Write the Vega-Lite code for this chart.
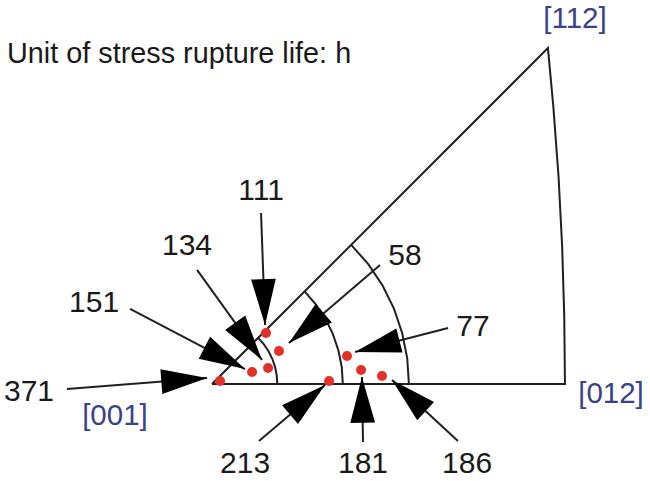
{
  "$schema": "https://vega.github.io/schema/vega-lite/v6.json",
  "width": 650,
  "height": 481,
  "padding": 0,
  "autosize": {"type": "fit", "contains": "padding"},
  "background": "white",
  "config": {"view": {"stroke": null}},
  "datasets": {
    "curves": [
      {"curve": "outline", "i": 0, "x": 0, "y": 0},
      {"curve": "outline", "i": 1, "x": 0.2361, "y": 0},
      {"curve": "outline", "i": 2, "x": 0.2356, "y": 0.0461},
      {"curve": "outline", "i": 3, "x": 0.2342, "y": 0.0923},
      {"curve": "outline", "i": 4, "x": 0.2318, "y": 0.1389},
      {"curve": "outline", "i": 5, "x": 0.2283, "y": 0.1858},
      {"curve": "outline", "i": 6, "x": 0.2247, "y": 0.2247},
      {"curve": "outline", "i": 7, "x": 0, "y": 0},
      {"curve": "arc5", "i": 0, "x": 0.0437, "y": 0},
      {"curve": "arc5", "i": 1, "x": 0.0433, "y": 0.0057},
      {"curve": "arc5", "i": 2, "x": 0.0422, "y": 0.0113},
      {"curve": "arc5", "i": 3, "x": 0.0404, "y": 0.0167},
      {"curve": "arc5", "i": 4, "x": 0.0378, "y": 0.0219},
      {"curve": "arc5", "i": 5, "x": 0.0347, "y": 0.0266},
      {"curve": "arc5", "i": 6, "x": 0.0309, "y": 0.0309},
      {"curve": "arc10", "i": 0, "x": 0.0875, "y": 0},
      {"curve": "arc10", "i": 1, "x": 0.0868, "y": 0.0114},
      {"curve": "arc10", "i": 2, "x": 0.0845, "y": 0.0226},
      {"curve": "arc10", "i": 3, "x": 0.0808, "y": 0.0335},
      {"curve": "arc10", "i": 4, "x": 0.0758, "y": 0.0438},
      {"curve": "arc10", "i": 5, "x": 0.0694, "y": 0.0533},
      {"curve": "arc10", "i": 6, "x": 0.0619, "y": 0.0619},
      {"curve": "arc15", "i": 0, "x": 0.1317, "y": 0},
      {"curve": "arc15", "i": 1, "x": 0.1306, "y": 0.0172},
      {"curve": "arc15", "i": 2, "x": 0.1272, "y": 0.0341},
      {"curve": "arc15", "i": 3, "x": 0.1217, "y": 0.0504},
      {"curve": "arc15", "i": 4, "x": 0.1141, "y": 0.0659},
      {"curve": "arc15", "i": 5, "x": 0.1045, "y": 0.0802},
      {"curve": "arc15", "i": 6, "x": 0.0931, "y": 0.0931}
    ],
    "samples": [
      {"life": "371", "px": 0.0054, "py": 0.0020, "sx": -0.0970, "sy": -0.0033, "tx": -0.0033, "ty": 0.0040, "lx": -0.1224, "ly": -0.0114},
      {"life": "151", "px": 0.0268, "py": 0.0080, "sx": -0.0548, "sy": 0.0502, "tx": 0.0221, "ty": 0.0100, "lx": -0.0789, "ly": 0.0482},
      {"life": "134", "px": 0.0375, "py": 0.0107, "sx": -0.0100, "sy": 0.0763, "tx": 0.0334, "ty": 0.0161, "lx": -0.0167, "ly": 0.0863},
      {"life": "111", "px": 0.0361, "py": 0.0341, "sx": 0.0328, "sy": 0.1144, "tx": 0.0355, "ty": 0.0395, "lx": 0.0328, "ly": 0.1231},
      {"life": "58", "px": 0.0448, "py": 0.0221, "sx": 0.1124, "sy": 0.0796, "tx": 0.0515, "ty": 0.0274, "lx": 0.1291, "ly": 0.0796},
      {"life": "77", "px": 0.0903, "py": 0.0187, "sx": 0.1579, "sy": 0.0375, "tx": 0.0957, "ty": 0.0214, "lx": 0.1746, "ly": 0.0321},
      {"life": "213", "px": 0.0783, "py": 0.0020, "sx": 0.0314, "sy": -0.0381, "tx": 0.0756, "ty": -0.0007, "lx": 0.0221, "ly": -0.0595},
      {"life": "181", "px": 0.0997, "py": 0.0094, "sx": 0.1010, "sy": -0.0388, "tx": 0.1003, "ty": 0.0047, "lx": 0.1010, "ly": -0.0595},
      {"life": "186", "px": 0.1137, "py": 0.0054, "sx": 0.1645, "sy": -0.0381, "tx": 0.1204, "ty": 0.0027, "lx": 0.1706, "ly": -0.0595}
    ],
    "poles": [
      {"pole": "[001]", "x": -0.0649, "y": -0.0274},
      {"pole": "[012]", "x": 0.2669, "y": -0.0127},
      {"pole": "[112]", "x": 0.2428, "y": 0.2381}
    ],
    "note": [
      {"text": "Unit of stress rupture life: h", "x": -0.1371, "y": 0.2147}
    ]
  },
  "resolve": {"scale": {"x": "shared", "y": "shared"}},
  "layer": [
    {
      "data": {"name": "curves"},
      "mark": {"type": "line", "color": "#231f20", "strokeWidth": 2, "strokeJoin": "miter"},
      "encoding": {
        "x": {"field": "x", "type": "quantitative", "scale": {"domain": [-0.14181, 0.29298], "nice": false, "zero": false}, "axis": null},
        "y": {"field": "y", "type": "quantitative", "scale": {"domain": [-0.06488, 0.25686], "nice": false, "zero": false}, "axis": null},
        "detail": {"field": "curve"},
        "order": {"field": "i", "type": "quantitative"}
      }
    },
    {
      "data": {"name": "samples"},
      "mark": {"type": "rule", "color": "#231f20", "strokeWidth": 2},
      "encoding": {
        "x": {"field": "sx", "type": "quantitative"},
        "y": {"field": "sy", "type": "quantitative"},
        "x2": {"field": "tx"},
        "y2": {"field": "ty"}
      }
    },
    {
      "data": {"name": "samples"},
      "transform": [
        {"calculate": "atan2(datum.tx - datum.sx, datum.ty - datum.sy) * 180 / PI", "as": "heading"}
      ],
      "mark": {"type": "point", "shape": "M0,0L-0.27,1L0.27,1Z", "filled": true, "color": "#000000", "opacity": 1, "size": 8400, "strokeWidth": 0},
      "encoding": {
        "x": {"field": "tx", "type": "quantitative"},
        "y": {"field": "ty", "type": "quantitative"},
        "angle": {"field": "heading", "type": "quantitative", "scale": null}
      }
    },
    {
      "data": {"name": "samples"},
      "mark": {"type": "circle", "color": "#e5302a", "opacity": 1, "size": 100},
      "encoding": {
        "x": {"field": "px", "type": "quantitative"},
        "y": {"field": "py", "type": "quantitative"}
      }
    },
    {
      "data": {"name": "samples"},
      "mark": {"type": "text", "font": "Liberation Sans", "fontSize": 30, "color": "#1a1a1a", "align": "center", "baseline": "alphabetic"},
      "encoding": {
        "x": {"field": "lx", "type": "quantitative"},
        "y": {"field": "ly", "type": "quantitative"},
        "text": {"field": "life"}
      }
    },
    {
      "data": {"name": "poles"},
      "mark": {"type": "text", "font": "Liberation Sans", "fontSize": 29.5, "color": "#3a4288", "align": "center", "baseline": "alphabetic"},
      "encoding": {
        "x": {"field": "x", "type": "quantitative"},
        "y": {"field": "y", "type": "quantitative"},
        "text": {"field": "pole"}
      }
    },
    {
      "data": {"name": "note"},
      "mark": {"type": "text", "font": "Liberation Sans", "fontSize": 28.8, "color": "#1a1a1a", "align": "left", "baseline": "alphabetic"},
      "encoding": {
        "x": {"field": "x", "type": "quantitative"},
        "y": {"field": "y", "type": "quantitative"},
        "text": {"field": "text"}
      }
    }
  ]
}
